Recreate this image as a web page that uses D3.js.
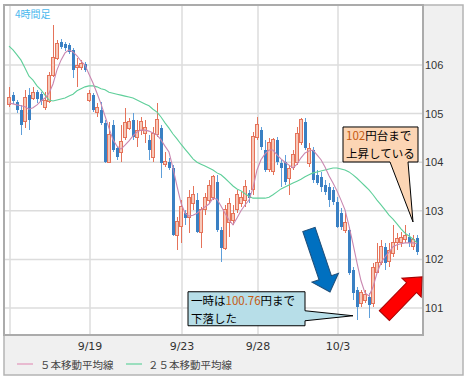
<!DOCTYPE html>
<html>
<head>
<meta charset="utf-8">
<script src="https://cdn.jsdelivr.net/npm/d3@7"></script>
<style>
  body { margin: 0; background: #fff; }
  svg { display: block; }
</style>
</head>
<body>
<svg id="chart" width="467" height="381"></svg>
<script>
// 4-hour candles
const opens = [105.18,105.38,105.24,105.07,104.83,105.38,105.32,105.44,105.40,105.12,
  105.24,105.79,106.14,106.47,106.43,106.41,106.31,105.94,105.94,106.02,
  105.28,105.38,105.03,105.07,104.81,104.00,104.77,104.29,104.19,104.50,
  104.70,104.87,104.50,104.66,104.60,104.46,104.09,104.56,104.70,103.96,
  104.00,103.88,102.50,102.67,102.95,102.87,103.16,103.22,102.56,103.02,
  103.22,103.28,103.59,102.60,102.23,102.75,102.81,103.02,103.16,103.22,
  103.37,103.43,104.50,104.66,104.25,103.84,103.80,104.46,103.98,104.00,
  103.67,103.90,104.00,104.40,104.83,103.98,104.25,103.74,103.70,103.53,
  103.49,103.43,103.18,102.95,102.60,102.60,101.78,101.37,101.10,101.16,
  101.23,101.10,101.74,101.93,102.26,101.95,102.13,102.34,102.34,102.40,
  102.46,102.26,102.44];
const highs = [105.55,105.44,105.28,105.18,105.49,105.53,105.55,105.49,105.44,105.44,
  105.86,106.82,106.51,106.53,106.47,106.45,106.35,106.14,106.10,106.06,
  105.49,105.42,105.22,105.24,104.87,104.83,104.87,104.33,104.77,105.12,
  104.91,105.01,104.87,104.93,104.87,104.56,104.72,105.22,104.77,104.21,
  104.09,103.94,102.87,103.22,103.02,103.43,103.51,103.37,103.08,103.37,
  103.63,103.74,103.74,102.67,103.12,103.26,103.12,103.43,103.39,103.63,
  103.43,104.62,104.93,104.72,104.46,104.50,104.50,104.52,104.05,104.15,
  103.94,104.25,104.72,104.91,104.91,104.40,104.31,103.84,103.80,103.63,
  103.57,103.49,103.28,103.06,102.95,102.67,101.84,101.43,101.37,101.37,
  101.31,101.93,102.34,102.40,102.34,102.34,102.71,102.54,102.56,102.71,
  102.54,102.50,102.50];
const lows = [105.14,105.20,105.01,104.56,104.70,104.66,105.28,105.22,105.18,105.07,
  105.22,105.75,106.10,106.33,106.29,106.23,105.73,105.55,105.90,105.86,
  105.24,105.03,104.93,104.77,103.98,103.98,104.21,104.05,104.00,104.46,
  104.66,104.46,104.31,104.56,104.40,104.05,104.00,104.52,103.67,103.90,
  103.84,102.48,102.19,102.34,102.71,102.54,103.02,102.54,102.23,102.91,
  103.16,103.22,102.56,101.95,102.19,102.46,102.71,102.95,103.08,103.08,
  103.16,103.33,104.46,104.25,103.80,103.80,103.74,103.94,103.49,103.53,
  103.33,103.84,103.94,104.35,104.25,103.90,103.57,103.53,103.39,103.33,
  103.08,103.12,102.65,102.60,102.54,101.68,101.16,100.76,101.02,101.10,
  100.79,101.02,101.72,101.88,101.78,101.84,102.05,102.19,102.26,102.34,
  102.26,102.19,102.09];
const closes = [105.34,105.26,105.07,104.77,105.34,104.87,105.44,105.30,105.26,105.28,
  105.79,106.16,106.45,106.37,106.35,106.27,105.90,106.00,106.04,105.90,
  105.42,105.07,105.12,104.81,104.00,104.56,104.25,104.11,104.42,104.81,
  104.83,104.52,104.66,104.83,104.72,104.25,104.60,104.87,103.98,104.02,
  103.88,102.50,102.77,103.08,102.85,103.28,103.33,102.56,103.02,103.28,
  103.53,103.70,102.60,102.23,103.02,103.16,102.95,103.33,103.28,103.49,
  103.26,104.52,104.77,104.31,103.84,104.40,104.46,104.00,103.88,103.59,
  103.88,104.15,104.60,104.87,104.29,104.29,103.63,103.57,103.49,103.39,
  103.22,103.18,102.67,102.67,102.75,101.72,101.31,101.02,101.31,101.27,
  101.06,101.84,101.93,102.26,101.93,102.19,102.34,102.44,102.46,102.50,
  102.34,102.40,102.15];
// moving averages as drawn
const ma5 = [105.22,105.20,105.18,105.16,105.14,105.09,105.12,105.18,105.26,105.32,
  105.42,105.61,105.90,106.10,106.25,106.31,106.27,106.19,106.08,106.00,
  105.81,105.63,105.42,105.20,104.95,104.70,104.46,104.33,104.27,104.35,
  104.44,104.54,104.62,104.66,104.66,104.64,104.60,104.56,104.46,104.33,
  104.21,103.88,103.51,103.16,102.95,102.89,102.91,102.95,103.02,103.08,
  103.14,103.26,103.24,103.10,102.95,102.81,102.71,102.85,103.00,103.12,
  103.22,103.47,103.84,104.05,104.17,104.25,104.25,104.15,104.07,104.00,
  103.94,103.88,103.96,104.09,104.19,104.23,104.25,104.15,104.05,103.90,
  103.72,103.57,103.41,103.22,103.02,102.69,102.32,101.93,101.56,101.31,
  101.25,101.43,101.72,101.93,102.05,102.15,102.26,102.30,102.32,102.34,
  102.34,102.34,102.32];
const ma25 = [106.39,106.31,106.21,106.10,105.94,105.77,105.69,105.57,105.49,105.38,
  105.28,105.26,105.28,105.30,105.32,105.36,105.40,105.47,105.51,105.55,
  105.57,105.57,105.55,105.51,105.49,105.44,105.42,105.40,105.38,105.36,
  105.34,105.32,105.28,105.24,105.20,105.16,105.09,105.03,104.93,104.81,
  104.70,104.58,104.48,104.37,104.27,104.17,104.07,104.00,103.96,103.92,
  103.88,103.84,103.78,103.74,103.67,103.59,103.51,103.45,103.41,103.35,
  103.30,103.26,103.26,103.26,103.26,103.28,103.33,103.39,103.45,103.49,
  103.53,103.57,103.61,103.65,103.70,103.74,103.78,103.80,103.82,103.84,
  103.86,103.88,103.88,103.86,103.84,103.80,103.74,103.67,103.59,103.51,
  103.43,103.33,103.22,103.12,103.02,102.91,102.83,102.73,102.63,102.54,
  102.48,102.42,102.34];

const yTicks = [101, 102, 103, 104, 105, 106];
const dateIdx = [0, 20, 43, 62, 82];
const dateLabels = ["", "9/19", "9/23", "9/28", "10/3"];
const legendLabels = ["５本移動平均線", "２５本移動平均線"];
const periodLabel = "4時間足";

// callouts: tip anchored on a bar index / price
const notes = [
  { i: 101, p: 102.77, lines: [["102", "円台まで"], ["", "上昇している"]] },
  { i: 86, p: 100.84, lines: [["一時は", "100.76", "円まで"], ["下落した"]] }
];
const arrows = [
  { i: 80.25, p: 101.33 }, // blue, pointing down
  { i: 103.25, p: 101.64 } // red, pointing up
];

const svg = d3.select("#chart");
const plot = { l: 4, t: 5, r: 423, b: 335 };
const outer = { r: 463, b: 375 };
const N = closes.length;

const x = d3.scaleLinear().domain([0, N - 1]).range([9, 417]);
const y = d3.scaleLinear().domain([100.444, 107.235]).range([plot.b, plot.t]);

const upStroke = "#e5735a", upFill = "#f7c8b8";
const downFill = "#3a80c3", downWick = "#5f9fda";
const ma5Col = "#c987b0", ma25Col = "#5fcf9a";

// frames
svg.append("rect")
  .attr("x", plot.l).attr("y", plot.t)
  .attr("width", outer.r - plot.l).attr("height", outer.b - plot.t)
  .attr("fill", "#f0f0f0").attr("stroke", "#b4b4b4").attr("stroke-width", 1.5);
svg.append("rect")
  .attr("x", plot.l).attr("y", plot.t)
  .attr("width", plot.r - plot.l).attr("height", plot.b - plot.t)
  .attr("fill", "#fff").attr("stroke", "#ababab").attr("stroke-width", 2);

svg.append("clipPath").attr("id", "clip")
  .append("rect")
  .attr("x", plot.l + 1).attr("y", plot.t + 1)
  .attr("width", plot.r - plot.l - 2).attr("height", plot.b - plot.t - 2);

const g = svg.append("g").attr("clip-path", "url(#clip)");

// grid
g.append("g").selectAll("line")
  .data(yTicks)
  .join("line")
  .attr("x1", plot.l).attr("x2", plot.r)
  .attr("y1", (d) => y(d)).attr("y2", (d) => y(d))
  .attr("stroke", "#dcdcdc").attr("stroke-width", 1.5);
g.append("g").selectAll("line")
  .data(dateIdx)
  .join("line")
  .attr("x1", (d) => x(d) + 1).attr("x2", (d) => x(d) + 1)
  .attr("y1", plot.t).attr("y2", plot.b)
  .attr("stroke", "#dcdcdc").attr("stroke-width", 1.5);

// candles
const bars = d3.range(N).map((i) => ({
  i, o: opens[i], h: highs[i], l: lows[i], c: closes[i], up: closes[i] >= opens[i]
}));

const candle = g.append("g").attr("shape-rendering", "crispEdges")
  .selectAll("g")
  .data(bars)
  .join("g");

candle.append("line")
  .attr("x1", (d) => x(d.i)).attr("x2", (d) => x(d.i))
  .attr("y1", (d) => y(d.h)).attr("y2", (d) => y(d.l))
  .attr("stroke", (d) => (d.up ? upStroke : downWick));

candle.append("rect")
  .attr("x", (d) => x(d.i) - 1.5)
  .attr("width", 3)
  .attr("y", (d) => y(Math.max(d.o, d.c)))
  .attr("height", (d) => Math.max(1, Math.abs(y(d.o) - y(d.c))))
  .attr("fill", (d) => (d.up ? upFill : downFill))
  .attr("stroke", (d) => (d.up ? upStroke : "none"));

// moving averages
const line = d3.line().x((d, i) => x(i)).y((d) => y(d));
g.append("path").datum(ma25)
  .attr("d", line).attr("fill", "none")
  .attr("stroke", ma25Col).attr("stroke-width", 1.1);
g.append("path").datum(ma5)
  .attr("d", line).attr("fill", "none")
  .attr("stroke", ma5Col).attr("stroke-width", 1.1);

// period label
svg.append("text")
  .attr("x", 15).attr("y", 13)
  .attr("dominant-baseline", "central")
  .attr("font-family", "'Noto Sans CJK JP', sans-serif")
  .attr("font-size", 10)
  .attr("fill", "#4ab8ee")
  .text(periodLabel);

// y labels
svg.append("g").selectAll("text")
  .data(yTicks)
  .join("text")
  .attr("x", plot.r + 2).attr("y", (d) => y(d))
  .attr("dominant-baseline", "central")
  .attr("font-family", "'Liberation Sans', Arial, sans-serif")
  .attr("font-size", 11)
  .attr("fill", "#333")
  .text((d) => d);

// x labels
svg.append("g").selectAll("text")
  .data(dateIdx)
  .join("text")
  .attr("x", (d) => x(d) + 1).attr("y", 346)
  .attr("text-anchor", "middle")
  .attr("dominant-baseline", "central")
  .attr("font-family", "'DejaVu Sans', sans-serif")
  .attr("font-size", 11)
  .attr("fill", "#333")
  .text((d, k) => dateLabels[k]);

// legend
const legend = svg.append("g").selectAll("g")
  .data(legendLabels)
  .join("g")
  .attr("transform", (d, k) => `translate(${k ? 126 : 17},364)`);
legend.append("line")
  .attr("x1", 0).attr("x2", 16)
  .attr("stroke", (d, k) => (k ? "#7fd8ae" : "#e6a9c6"))
  .attr("stroke-width", 1.5);
legend.append("text")
  .attr("x", (d, k) => (k ? 22 : 23)).attr("y", 0)
  .attr("dominant-baseline", "central")
  .attr("font-family", "'Noto Sans CJK JP', sans-serif")
  .attr("font-size", 10.5)
  .attr("fill", "#444")
  .text((d) => d);

// arrows (drawn along +x, then rotated)
const arrowPath = (len, hw, hh, hl) =>
  `M0,${-hw}L${len - hl},${-hw}L${len - hl},${-hh}L${len},0L${len - hl},${hh}L${len - hl},${hw}L0,${hw}Z`;
const arrowStyle = [
  { len: 66, ang: 71.4, hw: 6.5, hh: 14, hl: 15, fill: "#0070c0", stroke: "#1f4e79" },
  { len: 54, ang: -45.8, hw: 7, hh: 13.5, hl: 15, fill: "#ff0000", stroke: "#a50000" }
];
svg.append("g").selectAll("path")
  .data(arrows)
  .join("path")
  .attr("d", (d, k) => {
    const s = arrowStyle[k];
    return arrowPath(s.len, s.hw, s.hh, s.hl);
  })
  .attr("transform", (d, k) => {
    const s = arrowStyle[k];
    const tx = x(d.i), ty = y(d.p);
    const a = (s.ang * Math.PI) / 180;
    return `translate(${tx - s.len * Math.cos(a)},${ty - s.len * Math.sin(a)}) rotate(${s.ang})`;
  })
  .attr("fill", (d, k) => arrowStyle[k].fill)
  .attr("stroke", (d, k) => arrowStyle[k].stroke)
  .attr("stroke-width", 1);

// callouts
const noteStyle = [
  { fill: "#fcd5b4", box: (tx, ty) => ({ l: tx - 70, r: tx + 5, t: ty - 95, b: ty - 60 }),
    shape: (b, tx, ty) => `M${b.l},${b.t}H${b.r}V${b.b}H${tx - 5}L${tx},${ty}L${tx - 23},${b.b}H${b.l}Z` },
  { fill: "#b7dee8", box: (tx, ty) => ({ l: tx - 165, r: tx - 48, t: ty - 24, b: ty + 10 }),
    shape: (b, tx, ty) => `M${b.l},${b.t}H${b.r}V${ty - 5}L${tx},${ty}L${b.r},${ty + 5}V${b.b}H${b.l}Z` }
];
notes.forEach((n, k) => {
  const s = noteStyle[k];
  const tx = x(n.i), ty = y(n.p);
  const b = s.box(tx, ty);
  const ng = svg.append("g");
  ng.append("path")
    .attr("d", s.shape(b, tx, ty))
    .attr("fill", s.fill)
    .attr("stroke", "#000")
    .attr("stroke-width", 1);
  const t = ng.append("text")
    .attr("font-family", "'Noto Sans CJK JP', sans-serif")
    .attr("font-size", 11.5)
    .attr("fill", "#000");
  n.lines.forEach((parts, li) => {
    const row = t.append("tspan")
      .attr("x", b.l + 3)
      .attr("y", b.t + 8 + li * 18)
      .attr("dominant-baseline", "central");
    parts.forEach((p) => {
      row.append("tspan")
        .attr("fill", /^[0-9.]+$/.test(p) ? "#c55a11" : "#000")
        .text(p);
    });
  });
});
</script>
</body>
</html>
